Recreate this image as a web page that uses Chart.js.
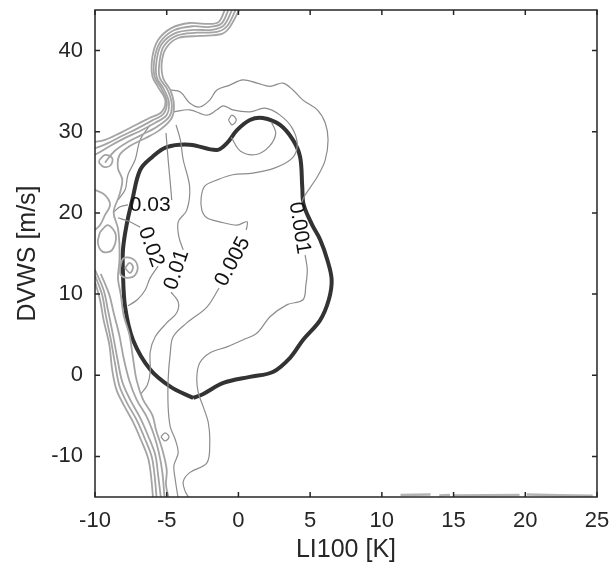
<!DOCTYPE html>
<html>
<head>
<meta charset="utf-8">
<script src="https://cdn.jsdelivr.net/npm/chart.js@4.4.1/dist/chart.umd.min.js"></script>
<style>
  html, body { margin: 0; padding: 0; background: #fff; }
</style>
</head>
<body>
<canvas id="chart" width="611" height="567"></canvas>
<script>
// axis ticks
const xTicks = [-10, -5, 0, 5, 10, 15, 20, 25];
const yTicks = [-10, 0, 10, 20, 30, 40];

// thick outline
const outline = [[-3.15,-2.8],[-4.75,-1.4],[-6.15,0.7],[-7.35,4.35],[-7.9,8.4],[-8.05,12.6],[-8.05,15.45],[-7.8,18.5],[-7.4,21.6],[-6.85,25.3],[-6.0,26.9],[-5.0,28.1],[-3.4,28.4],[-1.5,27.75],[-0.8,28.6],[-0.1,30.2],[0.8,31.45],[1.7,31.7],[2.9,30.85],[3.8,29.0],[4.3,26.9],[4.45,23.2],[4.55,21.0],[5.15,18.5],[5.7,16.7],[6.2,14.2],[6.5,11.75],[6.3,9.3],[5.7,6.8],[4.5,4.35],[3.6,2.15],[2.4,0.4],[0.8,-0.2],[-1.05,-0.95],[-2.45,-2.3],[-3.15,-2.8]];

// labelled contours, each split in two where its label sits
const c001a = [[-4.75,35.15],[-4.05,34.9],[-3.4,33.55],[-2.7,33.05],[-2.0,33.9],[-1.5,35.15],[-0.6,35.75],[0.3,36.4],[1.3,36.0],[2.2,35.6],[3.1,36.0],[3.8,35.15],[4.5,33.9],[5.5,32.7],[6.05,31.1],[6.25,29.0],[6.05,26.5],[5.5,24.45],[4.65,22.2],[4.35,21.1]];
const c001b = [[4.65,14.8],[4.8,13.0],[4.7,11.1],[4.5,9.3],[3.4,8.7],[2.2,7.2],[1.3,5.2],[0.3,4.35],[-0.8,3.5],[-2.0,2.75],[-2.7,1.5],[-2.9,-0.2],[-2.8,-2.15],[-2.45,-3.9],[-2.1,-5.85],[-2.0,-8.3],[-2.2,-10.8],[-3.4,-12.0],[-3.85,-13.1],[-3.7,-14.35],[-3.4,-15.2]];
const c005a = [[-4.5,32.45],[-3.4,32.7],[-2.2,32.05],[-1.5,32.7],[-1.05,33.2],[-0.4,32.7],[0.8,32.45],[1.85,32.9],[2.9,32.05],[3.75,30.45],[4.1,28.4],[3.75,26.75],[2.55,25.55],[1.0,24.9],[-0.4,24.7],[-1.5,24.05],[-2.35,23.3],[-2.6,21.85],[-2.55,20.35],[-2.2,19.4],[-1.3,18.9],[-0.1,18.5],[0.6,18.9],[0.55,17.9]];
const c005b = [[-1.35,10.75],[-2.2,8.4],[-3.6,6.45],[-4.55,4.75],[-4.75,2.75],[-4.9,-0.55],[-4.9,-3.9],[-4.75,-6.35],[-4.4,-7.95],[-4.2,-9.55],[-4.5,-11.15],[-4.4,-12.9],[-4.2,-15.2]];
const c01a = [[-4.35,30.85],[-4.05,29.0],[-3.85,26.55],[-3.4,23.2],[-3.6,20.35],[-4.2,18.9],[-4.15,17.05],[-3.85,15.45]];
const c01b = [[-4.7,10.25],[-4.2,9.05],[-4.3,7.7],[-5.0,6.45],[-5.8,4.75],[-6.15,2.9],[-6.15,0.4],[-6.35,-1.2],[-6.8,-2.3]];
const c02a = [[-8.4,19.4],[-7.7,19.0],[-6.85,18.25]];
const c02b = [[-5.6,13.45],[-6.15,12.0],[-6.5,10.5],[-7.05,9.3],[-7.7,8.55]];
const c03a = [[-5.05,29.85],[-4.9,26.55],[-4.75,23.7],[-4.65,21.6]];
const c03b = [[-7.7,21.0],[-8.25,20.75],[-8.7,20.1]];
const c04 = [[-6.15,30.85],[-6.85,29.0],[-7.2,26.55],[-7.7,24.7],[-7.9,22.85],[-8.4,21.6]];

// dense band of contours on the left
const band1 = [[-0.95,45],[-1.4,43.5],[-2.35,43.3],[-3.4,43.4],[-4.65,42.8],[-5.6,41.3],[-6.0,39.2],[-6.0,36.85],[-5.6,35.5],[-5.1,33.9],[-5.35,32.45],[-6.2,31.7],[-7.2,30.8],[-8.3,29.8],[-9.3,29.0],[-10.2,28.7]];
const band5 = [[-0.7,45],[-1.2,43.3],[-2.1,42.9],[-3.2,43.0],[-4.5,42.5],[-5.45,41.05],[-5.85,39.0],[-5.85,36.8],[-5.4,35.4],[-5.0,33.8],[-5.2,32.25],[-6.0,31.4],[-7.0,30.45],[-8.1,29.5],[-9.1,28.6],[-10.2,27.8]];
const band2 = [[-0.45,45],[-1.0,43.15],[-1.85,42.55],[-3.05,42.55],[-4.4,42.15],[-5.35,40.8],[-5.7,38.85],[-5.7,36.75],[-5.2,35.25],[-4.85,33.65],[-5.0,32.05],[-5.8,31.1],[-6.85,30.1],[-7.9,29.25],[-8.95,28.25],[-9.65,27.5],[-10.2,27.0]];
const band4 = [[-0.2,45],[-0.8,43.0],[-1.5,42.3],[-2.9,42.2],[-4.3,41.85],[-5.2,40.55],[-5.5,38.65],[-5.5,36.7],[-4.95,35.2],[-4.65,33.5],[-4.8,31.9],[-5.65,30.65],[-6.7,29.65],[-7.75,28.7],[-8.65,27.6],[-9.3,26.2]];
const band3 = [[0.05,45],[-0.6,42.9],[-1.15,42.05],[-2.7,41.8],[-4.2,41.55],[-5.05,40.3],[-5.35,38.45],[-5.25,36.6],[-4.75,35.15],[-4.5,33.4],[-4.65,31.7],[-5.5,30.2],[-6.5,29.2],[-7.6,28.2],[-8.3,27.1],[-8.4,25.5],[-8.1,24.1],[-8.3,22.2],[-8.7,20.1],[-8.4,18.1],[-8.3,16.1],[-8.3,14.0],[-8.4,12.0],[-8.2,9.9],[-8.0,7.4],[-7.6,5.0],[-7.35,2.1],[-7.1,-0.6],[-6.65,-3.0],[-6.0,-4.9],[-5.75,-6.7],[-5.3,-9.2],[-5.0,-11.65],[-5.05,-13.5],[-4.85,-15.2]];
const band1Low = [[-10,11.5],[-9.65,9.3],[-9.4,6.8],[-9.0,3.75],[-8.8,0.65],[-8.5,-1.8],[-8.0,-3.65],[-7.35,-5.75],[-6.8,-7.95],[-6.3,-10.2],[-6.1,-12.3],[-5.95,-15.2]];
const band5Low = [[-10,12.3],[-9.5,9.9],[-9.25,7.4],[-8.9,4.4],[-8.6,1.4],[-8.3,-1.3],[-7.8,-3.3],[-7.1,-5.5],[-6.55,-7.7],[-6.05,-10.0],[-5.85,-12.3],[-5.7,-15.2]];
const band2Low = [[-10,13.0],[-9.4,10.5],[-9.1,8.05],[-8.75,5.0],[-8.45,2.15],[-8.1,-0.8],[-7.55,-3.0],[-6.85,-5.25],[-6.3,-7.45],[-5.8,-9.8],[-5.6,-12.3],[-5.4,-15.2]];
const band4Low = [[-9.6,12.5],[-9.0,9.9],[-8.7,7.7],[-8.3,4.9],[-8.0,2.1],[-7.6,-0.7],[-7.1,-3.0],[-6.4,-5.1],[-5.9,-7.3],[-5.55,-9.5],[-5.3,-12.0],[-5.15,-15.2]];
const bandExtra = [[-10,22.85],[-9.3,22.2],[-8.95,21.0],[-9.3,19.75],[-9.65,18.5],[-10,17.9]];

// small closed loops
const loopA = [[-9.7,26.5],[-9.3,27.15],[-8.8,26.75],[-8.9,25.9],[-9.35,25.65],[-9.7,26.15],[-9.7,26.5]];
const loopC = [[-8.25,13.2],[-8.05,14.35],[-7.5,14.45],[-7.05,13.6],[-7.2,12.35],[-7.75,12.0],[-8.2,12.35],[-8.25,13.2]];
const loopCInner = [[-7.9,13.2],[-7.6,13.85],[-7.35,13.35],[-7.55,12.6],[-7.9,13.2]];
const loopD = [[-9.65,17.65],[-9.1,18.5],[-8.55,17.3],[-8.8,15.45],[-9.45,15.2],[-9.8,16.3],[-9.65,17.65]];
const loopE = [[-5.4,-7.6],[-5.12,-7.1],[-4.84,-7.6],[-5.12,-8.1],[-5.4,-7.6]];
const loopF = [[-0.7,31.45],[-0.45,32.05],[-0.15,31.45],[-0.45,30.85],[-0.7,31.45]];
const arcG = [[-0.5,29.3],[0.15,27.6],[1.25,27.2],[2.15,28.2],[2.6,29.8],[2.3,31.2]];

// specks along the bottom axis on the right
const streak1 = [[11.3,-14.75],[13.4,-14.7]];
const streak2 = [[14.0,-14.8],[14.75,-14.75]];
const streak3 = [[15.0,-14.8],[19.6,-14.75]];
const streak4 = [[20.1,-14.7],[24.7,-14.85]];

// contour labels
const labelText = ['0.03', '0.02', '0.01', '0.005', '0.001'];
const labelX = [-6.15, -6.1, -4.3, -0.4, 4.25];
const labelY = [21.0, 15.8, 13.0, 14.0, 18.15];
const labelAngle = [0, 70, -72, -62, 81];

const FONT = "'Liberation Sans', Arial, sans-serif";
const INK = '#262626';

function line(pts, color, width) {
    return {
        data: pts.map(p => ({ x: p[0], y: p[1] })),
        showLine: true,
        borderColor: color,
        borderWidth: width,
        pointRadius: 0,
        fill: false,
        tension: 0.35
    };
}

const datasets = [];
[band1, band5, band2, band4, band3, band1Low, band5Low, band2Low, band4Low, bandExtra,
 loopA, loopC, loopCInner, loopD].forEach(p => datasets.push(line(p, '#a4a4a4', 1.8)));
[streak1, streak2, streak3, streak4].forEach(p => datasets.push(line(p, '#b4b4b4', 2.5)));
[c001a, c001b, c005a, c005b, c01a, c01b, c02a, c02b, c03a, c03b, c04,
 loopE, loopF, arcG].forEach(p => datasets.push(line(p, '#8c8c8c', 1.2)));
datasets.push(line(outline, '#333333', 4));

// contour labels + box with inward ticks
const overlay = {
    id: 'overlay',
    afterDatasetsDraw(chart) {
        const { ctx, chartArea: a, scales: { x, y } } = chart;
        ctx.save();
        ctx.fillStyle = '#111';
        ctx.font = '21px ' + FONT;
        ctx.textAlign = 'center';
        ctx.textBaseline = 'middle';
        labelText.forEach((t, i) => {
            ctx.save();
            ctx.translate(x.getPixelForValue(labelX[i]), y.getPixelForValue(labelY[i]));
            ctx.rotate(labelAngle[i] * Math.PI / 180);
            ctx.fillText(t, 0, 0);
            ctx.restore();
        });

        ctx.strokeStyle = INK;
        ctx.lineWidth = 1.5;
        ctx.strokeRect(a.left, a.top, a.right - a.left, a.bottom - a.top);
        ctx.beginPath();
        xTicks.forEach(v => {
            const px = x.getPixelForValue(v);
            ctx.moveTo(px, a.bottom); ctx.lineTo(px, a.bottom - 5);
            ctx.moveTo(px, a.top); ctx.lineTo(px, a.top + 5);
        });
        yTicks.forEach(v => {
            const py = y.getPixelForValue(v);
            ctx.moveTo(a.left, py); ctx.lineTo(a.left + 5, py);
            ctx.moveTo(a.right, py); ctx.lineTo(a.right - 5, py);
        });
        ctx.stroke();
        ctx.restore();
    }
};

new Chart(document.getElementById('chart'), {
    type: 'scatter',
    data: { datasets },
    options: {
        responsive: false,
        animation: false,
        layout: { padding: { top: 10, right: 14, left: 0, bottom: 0 } },
        plugins: { legend: { display: false }, tooltip: { enabled: false } },
        scales: {
            x: {
                type: 'linear', min: -10, max: 25,
                afterBuildTicks: s => { s.ticks = xTicks.map(v => ({ value: v })); },
                afterFit: s => { s.height = 70; s.paddingLeft = 0; s.paddingRight = 0; },
                ticks: { font: { family: FONT, size: 22 }, color: INK, padding: 11, maxRotation: 0 },
                grid: { display: false, drawTicks: false, tickLength: 0 },
                border: { display: false },
                title: { display: true, text: 'LI100 [K]', color: INK, font: { family: FONT, size: 25 }, padding: { top: 0, bottom: 2 } }
            },
            y: {
                type: 'linear', min: -15, max: 45,
                afterBuildTicks: s => { s.ticks = yTicks.map(v => ({ value: v })); },
                afterFit: s => { s.width = 95; s.paddingTop = 0; s.paddingBottom = 0; },
                ticks: { font: { family: FONT, size: 22 }, color: INK, padding: 12 },
                grid: { display: false, drawTicks: false, tickLength: 0 },
                border: { display: false },
                title: { display: true, text: 'DVWS [m/s]', color: INK, font: { family: FONT, size: 25 }, padding: { top: 13, bottom: 0 } }
            }
        }
    },
    plugins: [overlay]
});
</script>
</body>
</html>
